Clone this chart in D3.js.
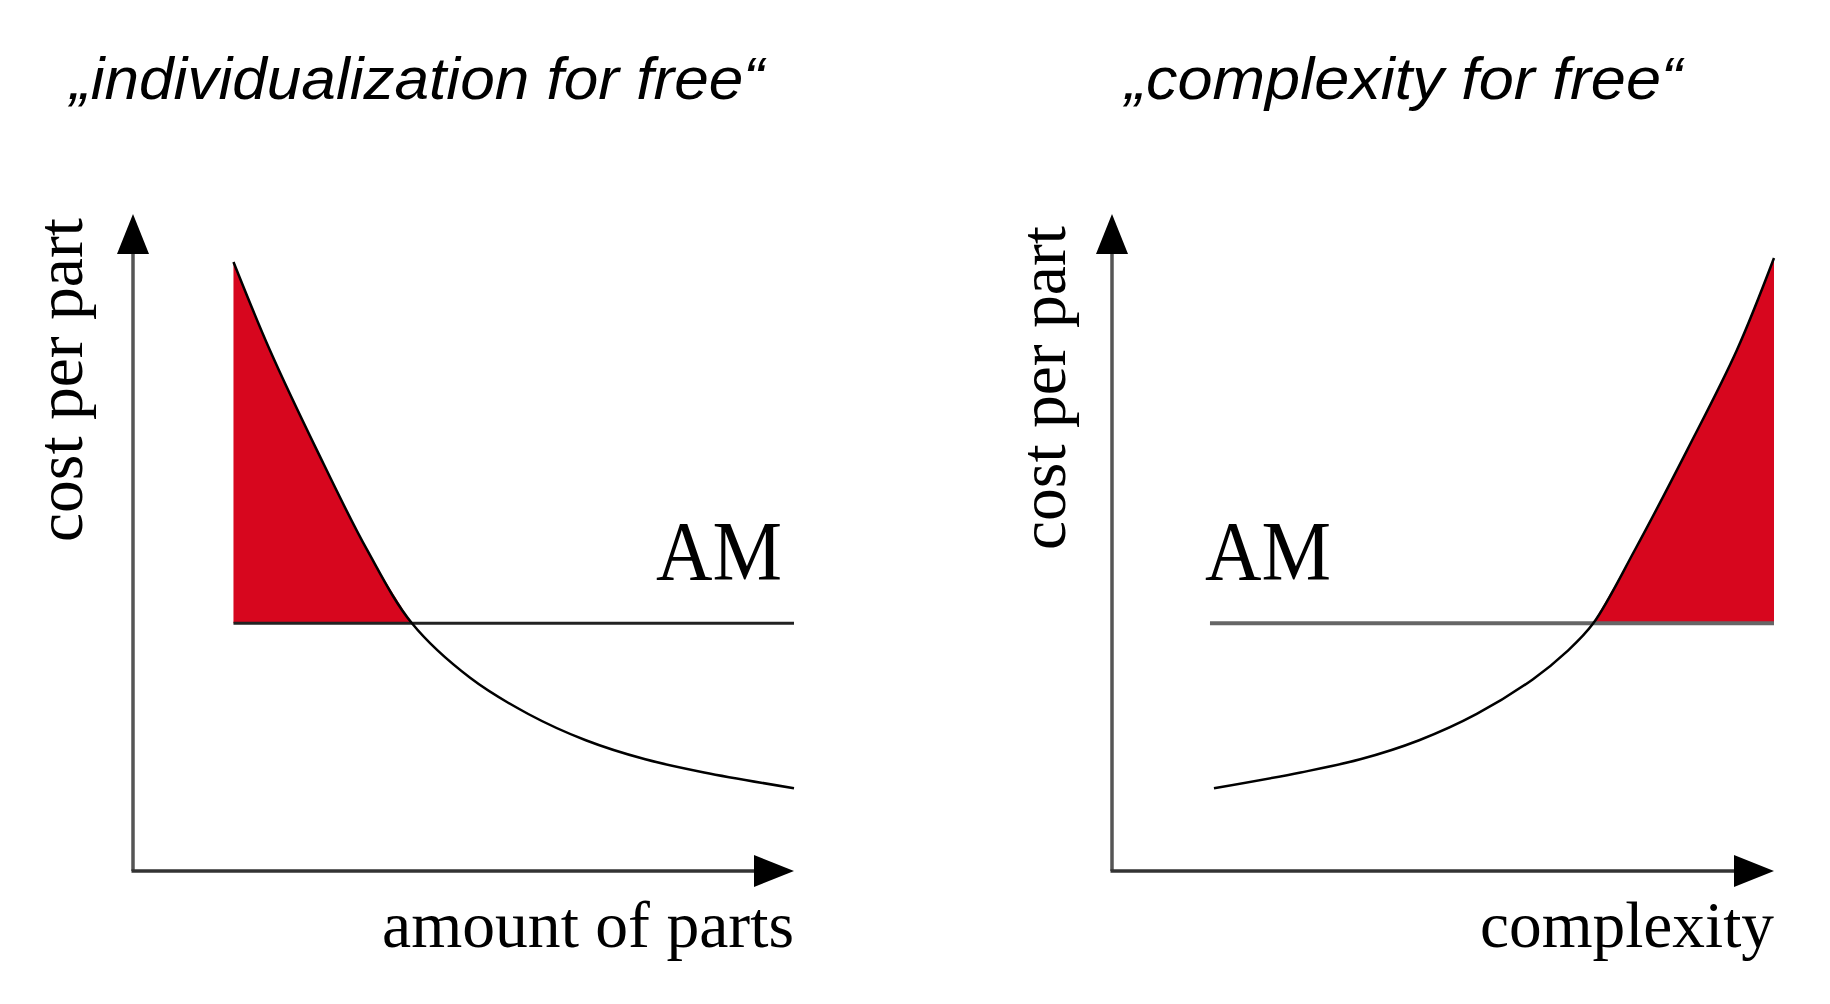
<!DOCTYPE html>
<html>
<head>
<meta charset="utf-8">
<script src="https://cdn.jsdelivr.net/npm/d3@7"></script>
<style>
  html, body { margin: 0; padding: 0; background: #fff; }
  svg { display: block; }
</style>
</head>
<body>
<div id="chart"></div>
<script>
// Panel titles and axis labels
const titles = ["\u201Eindividualization for free\u201C", "\u201Ecomplexity for free\u201C"];
const xLabels = ["amount of parts", "complexity"];
const yLabel = "cost per part";
const amLabel = "AM";

// Conventional manufacturing cost curves (x, cost), 0..100 units
const curveQuantity = [
    [15.2, 92.7], [20.7, 79.3], [27.8, 64.1], [35.4, 48.9], [42.2, 37.7],
    [51.0, 29.4], [59.8, 23.9], [68.5, 19.9], [77.5, 17.0], [86.4, 15.0],
    [100, 12.6]
];
const curveComplexity = [
    [15.4, 12.6], [28.5, 15.0], [37.5, 17.0], [46.4, 19.9], [55.1, 23.9],
    [63.6, 29.2], [68.7, 33.4], [72.7, 37.7], [79.0, 48.9], [86.9, 64.1],
    [94.4, 79.3], [100, 93.3]
];

// AM cost level, where the AM line starts, and the break-even point
const amLevel = [37.7, 37.7];
const amStart = [15.2, 14.8];
const breakEven = [42.2, 72.7];

const width = 1830;
const height = 1004;

const svg = d3.select("#chart").append("svg")
    .attr("width", width)
    .attr("height", height);

const panels = [
    { xRange: [133, 794], data: curveQuantity, shadeLeft: true, amColor: "#222", amWidth: 3,
      titleX: 70, titleLen: 694, amX: 656, xLabelLen: 412, yLabelX: 82, yLabelMid: 380 },
    { xRange: [1112, 1774], data: curveComplexity, shadeLeft: false, amColor: "#666", amWidth: 4,
      titleX: 1125, titleLen: 557, amX: 1205, xLabelLen: 294, yLabelX: 1065, yLabelMid: 388 }
];

const yRange = [871, 214];

panels.forEach((p, i) => {
    const x = d3.scaleLinear().domain([0, 100]).range(p.xRange);
    const y = d3.scaleLinear().domain([0, 100]).range(yRange);
    const g = svg.append("g");
    const smooth = d3.curveCatmullRom.alpha(0.5);

    // shaded region between curve and AM level
    const shade = p.data.filter(d => p.shadeLeft ? d[0] <= breakEven[i] : d[0] >= breakEven[i]);
    g.append("path")
        .datum(shade)
        .attr("fill", "#d7061e")
        .attr("d", d3.area()
            .x(d => x(d[0]))
            .y0(y(amLevel[i]))
            .y1(d => y(d[1]))
            .curve(smooth));

    // AM line
    g.append("line")
        .attr("x1", x(amStart[i]))
        .attr("x2", x(100))
        .attr("y1", y(amLevel[i]))
        .attr("y2", y(amLevel[i]))
        .attr("stroke", p.amColor)
        .attr("stroke-width", p.amWidth);

    // conventional curve
    g.append("path")
        .datum(p.data)
        .attr("fill", "none")
        .attr("stroke", "#000")
        .attr("stroke-width", 2.5)
        .attr("d", d3.line()
            .x(d => x(d[0]))
            .y(d => y(d[1]))
            .curve(smooth));

    // axes with arrow heads
    const x0 = x(0), y0 = y(0), xEnd = x(100), yEnd = y(100);
    const head = 40, half = 16;
    g.append("line")
        .attr("x1", x0).attr("y1", y0)
        .attr("x2", x0).attr("y2", yEnd + head - 2)
        .attr("stroke", "#555").attr("stroke-width", 3.5);
    g.append("line")
        .attr("x1", x0 - 1.5).attr("y1", y0)
        .attr("x2", xEnd - head + 2).attr("y2", y0)
        .attr("stroke", "#333").attr("stroke-width", 3.5);
    g.append("path")
        .attr("d", `M${x0},${yEnd}L${x0 - half},${yEnd + head}L${x0 + half},${yEnd + head}Z`)
        .attr("fill", "#000");
    g.append("path")
        .attr("d", `M${xEnd},${y0}L${xEnd - head},${y0 - half}L${xEnd - head},${y0 + half}Z`)
        .attr("fill", "#000");

    // title
    g.append("text")
        .attr("x", p.titleX)
        .attr("y", 99)
        .attr("textLength", p.titleLen)
        .attr("lengthAdjust", "spacingAndGlyphs")
        .style("font-family", "'Liberation Sans', Arial, sans-serif")
        .style("font-style", "italic")
        .style("font-size", "60px")
        .text(titles[i]);

    // AM label
    g.append("text")
        .attr("x", p.amX)
        .attr("y", 580)
        .attr("textLength", 126)
        .attr("lengthAdjust", "spacingAndGlyphs")
        .style("font-family", "'Liberation Serif', 'Times New Roman', serif")
        .style("font-size", "85px")
        .text(amLabel);

    // x axis label
    g.append("text")
        .attr("x", xEnd)
        .attr("y", 947)
        .attr("text-anchor", "end")
        .attr("textLength", p.xLabelLen)
        .attr("lengthAdjust", "spacingAndGlyphs")
        .style("font-family", "'Liberation Serif', 'Times New Roman', serif")
        .style("font-size", "66px")
        .text(xLabels[i]);

    // y axis label
    g.append("text")
        .attr("transform", `translate(${p.yLabelX},${p.yLabelMid}) rotate(-90)`)
        .attr("text-anchor", "middle")
        .attr("textLength", 324)
        .attr("lengthAdjust", "spacingAndGlyphs")
        .style("font-family", "'Liberation Serif', 'Times New Roman', serif")
        .style("font-size", "66px")
        .text(yLabel);
});
</script>
</body>
</html>
